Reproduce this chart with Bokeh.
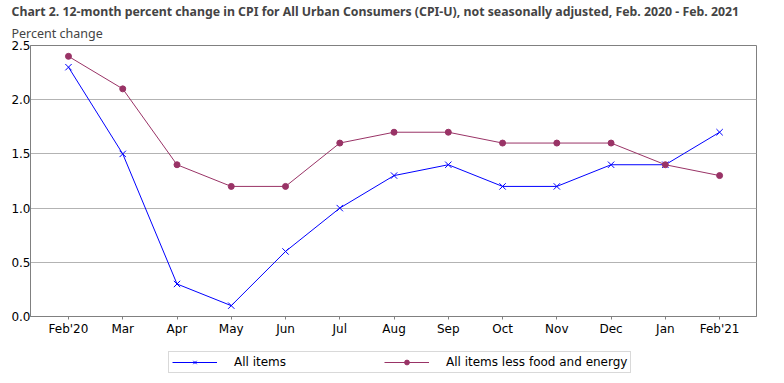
from bokeh.plotting import figure
from bokeh.layouts import column
from bokeh.models import Range1d, FixedTicker, Legend, LegendItem, Title, NumeralTickFormatter
from bokeh.embed import file_html
from bokeh.resources import INLINE

months = ["Feb'20", "Mar", "Apr", "May", "Jun", "Jul", "Aug", "Sep", "Oct", "Nov", "Dec", "Jan", "Feb'21"]
all_items = [2.3, 1.5, 0.3, 0.1, 0.6, 1.0, 1.3, 1.4, 1.2, 1.2, 1.4, 1.4, 1.7]
core = [2.4, 2.1, 1.4, 1.2, 1.2, 1.6, 1.7, 1.7, 1.6, 1.6, 1.6, 1.4, 1.3]
y_ticks = [0.0, 0.5, 1.0, 1.5, 2.0, 2.5]

xs = list(range(len(months)))
FONT = "DejaVu Sans"
blue = "#0000ff"
maroon = "#993366"

p = figure(frame_width=726, frame_height=271, output_backend="svg", toolbar_location=None,
           x_range=Range1d(-0.7, len(months) - 0.32), y_range=Range1d(0, 2.5),
           min_border_left=30, min_border_right=12, min_border_top=4, min_border_bottom=30)

p.title.text = "Chart 2. 12-month percent change in CPI for All Urban Consumers (CPI-U), not seasonally adjusted, Feb. 2020 - Feb. 2021"
p.title.text_font = "Noto Sans"
p.title.text_font_size = "12.3px"
p.title.text_font_style = "bold"
p.title.offset = -19
p.title.standoff = 0
p.add_layout(Title(text="Percent change", text_font="Noto Sans", text_font_size="12.5px",
                   text_font_style="normal", offset=-19, standoff=7), "above")

p.outline_line_color = "#808080"
p.outline_line_width = 1
p.background_fill_color = "white"
p.border_fill_color = "white"

p.xgrid.grid_line_color = None
p.ygrid.grid_line_color = "#b3b3b3"
p.ygrid.ticker = FixedTicker(ticks=y_ticks)

p.yaxis.ticker = FixedTicker(ticks=y_ticks)
p.yaxis.formatter = NumeralTickFormatter(format="0.0")
p.yaxis.major_tick_in = 0
p.yaxis.major_tick_out = 0
p.yaxis.major_tick_line_color = None
p.yaxis.minor_tick_line_color = None
p.yaxis.axis_line_color = "#808080"
p.yaxis.major_label_text_font = FONT
p.yaxis.major_label_text_font_size = "12px"
p.yaxis.major_label_text_color = "black"
p.yaxis.major_label_standoff = 0

p.xaxis.ticker = FixedTicker(ticks=xs)
p.xaxis.major_label_overrides = {i: m for i, m in enumerate(months)}
p.xaxis.major_tick_in = 0
p.xaxis.major_tick_out = 3
p.xaxis.major_tick_line_color = "#808080"
p.xaxis.minor_tick_line_color = None
p.xaxis.axis_line_color = "#808080"
p.xaxis.major_label_text_font = FONT
p.xaxis.major_label_text_font_size = "12px"
p.xaxis.major_label_text_color = "black"
p.xaxis.major_label_standoff = 2

p.line(xs, all_items, line_color=blue, line_width=1)
p.scatter(xs, all_items, marker="x", size=9, line_color=blue, line_width=1)
p.line(xs, core, line_color=maroon, line_width=1)
p.scatter(xs, core, marker="circle", size=6, fill_color=maroon, line_color=maroon)

# Legend strip below the chart; its ranges keep the series out of view
lg = figure(frame_width=726, frame_height=29, output_backend="svg", toolbar_location=None,
            x_range=Range1d(100, 101), y_range=Range1d(100, 101),
            min_border_left=30, min_border_right=12, min_border_top=0, min_border_bottom=0)
lg.axis.visible = False
lg.grid.visible = False
lg.outline_line_color = None
lg.border_fill_color = "white"

bl = lg.line(xs, all_items, line_color=blue, line_width=1)
bm = lg.scatter(xs, all_items, marker="x", size=7, line_color=blue, line_width=1)
ml = lg.line(xs, core, line_color=maroon, line_width=1)
mm = lg.scatter(xs, core, marker="circle", size=6, fill_color=maroon, line_color=maroon)

legend = Legend(items=[LegendItem(label="All items", renderers=[bl, bm]),
                       LegendItem(label="All items less food and energy", renderers=[ml, mm])],
                orientation="horizontal", location=(138, 2),
                glyph_width=45, glyph_height=12, label_height=14, label_standoff=17,
                label_width=130, spacing=20, padding=3, margin=0,
                border_line_color="#b3b3b3", border_line_width=1,
                label_text_font=FONT, label_text_font_size="12px",
                label_text_color="black")
lg.add_layout(legend, "center")

layout = column(p, lg, spacing=0)
open("out.html", "w").write(file_html(layout, INLINE))
